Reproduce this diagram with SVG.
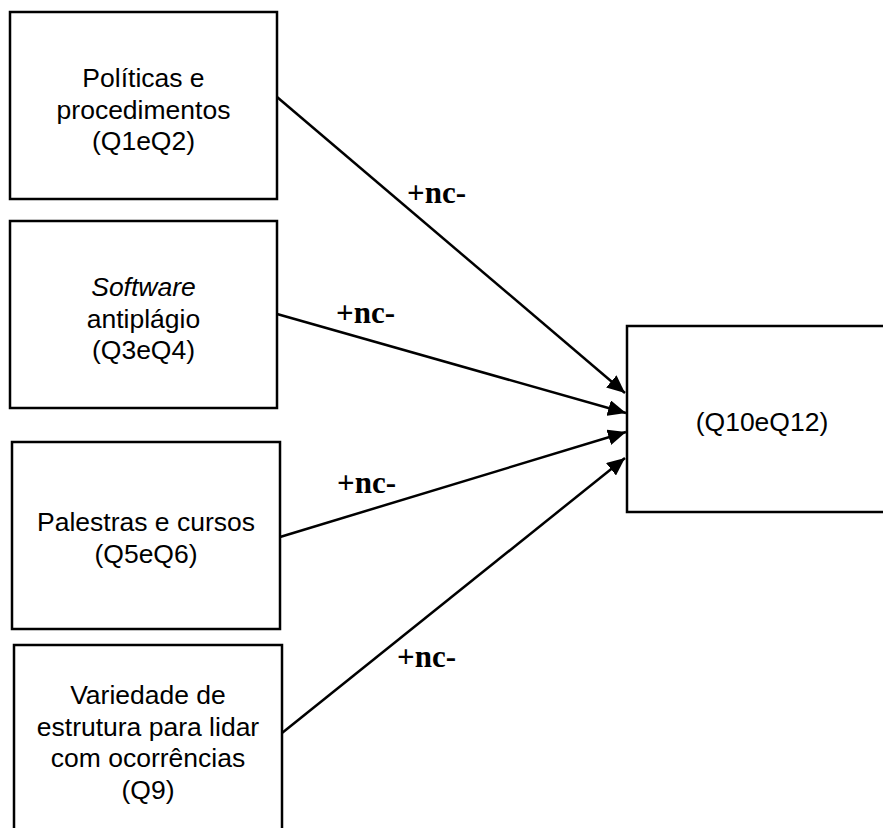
<svg xmlns="http://www.w3.org/2000/svg" width="883" height="828" viewBox="0 0 883 828">
<style>
.box{fill:#fff;stroke:#000;stroke-width:2.5}
.t{font-family:"Liberation Sans",Arial,sans-serif;font-size:26.5px;fill:#000;text-anchor:middle}
.lbl{font-family:"Liberation Serif","Times New Roman",serif;font-size:31px;font-weight:bold;fill:#000}
.c{stroke:#000;stroke-width:2.5;fill:none}
</style>
<defs>
<marker id="ah" markerUnits="userSpaceOnUse" markerWidth="19" markerHeight="16" refX="18" refY="8" orient="auto">
<path d="M0,0 L18,8 L0,16 z" fill="#000"/>
</marker>
</defs>
<rect width="883" height="828" fill="#fff"/>
<g id="n1">
<rect class="box" x="10" y="12" width="267" height="187"/>
<text class="t" x="143.5" y="87">Políticas e</text>
<text class="t" x="143.5" y="118.5">procedimentos</text>
<text class="t" x="143.5" y="150">(Q1eQ2)</text>
</g>
<g id="n2">
<rect class="box" x="10" y="221" width="267" height="187"/>
<text class="t" x="143.5" y="296" font-style="italic">Software</text>
<text class="t" x="143.5" y="327.5">antiplágio</text>
<text class="t" x="143.5" y="359">(Q3eQ4)</text>
</g>
<g id="n3">
<rect class="box" x="12" y="442" width="268" height="187"/>
<text class="t" x="146" y="531">Palestras e cursos</text>
<text class="t" x="146" y="562.5">(Q5eQ6)</text>
</g>
<g id="n4">
<rect class="box" x="14" y="645" width="268" height="200"/>
<text class="t" x="148" y="704">Variedade de</text>
<text class="t" x="148" y="735.5">estrutura para lidar</text>
<text class="t" x="148" y="767">com ocorrências</text>
<text class="t" x="148" y="798.5">(Q9)</text>
</g>
<g id="n5">
<rect class="box" x="627" y="326" width="280" height="186"/>
<text class="t" x="762" y="431">(Q10eQ12)</text>
</g>
<g id="connectors">
<line class="c" x1="277" y1="97" x2="625" y2="393" marker-end="url(#ah)"/>
<line class="c" x1="277" y1="314" x2="626" y2="413" marker-end="url(#ah)"/>
<line class="c" x1="280" y1="537" x2="626" y2="432" marker-end="url(#ah)"/>
<line class="c" x1="282" y1="733" x2="625" y2="458" marker-end="url(#ah)"/>
<text class="lbl" x="407" y="203">+nc-</text>
<text class="lbl" x="336" y="323">+nc-</text>
<text class="lbl" x="337" y="493">+nc-</text>
<text class="lbl" x="397" y="667">+nc-</text>
</g>
</svg>
